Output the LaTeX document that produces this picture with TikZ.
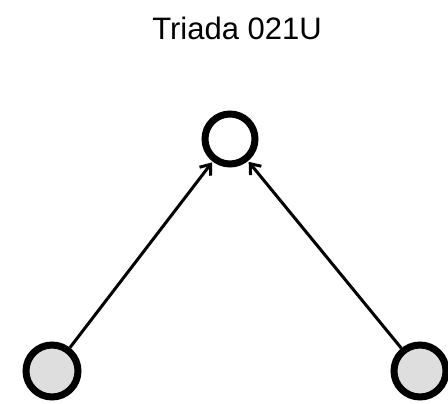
\documentclass[tikz,border=0pt]{standalone}
\usepackage{fontspec}
\setmainfont{Liberation Sans}
\usetikzlibrary{arrows.meta}
\begin{document}
\begin{tikzpicture}[x=1pt,y=-1pt,
  vertex/.style={circle,draw=black,line width=7pt,minimum size=50pt,inner sep=0pt},
  tie/.style={line width=3pt,-{Straight Barb[length=9pt,width=14pt,line width=3pt]},shorten >=1pt}]
\useasboundingbox (0,0) rectangle (448,404);
\node (title) at (237,28) {\fontsize{31pt}{36pt}\selectfont Triada 021U};
\node[vertex,fill=white] (top) at (230,139) {};
\node[vertex,fill=black!13,minimum size=52pt] (left) at (52,371) {};
\node[vertex,fill=black!13,minimum size=52pt] (right) at (420,371) {};
\draw[tie] (left) -- (top);
\draw[tie] (right) -- (top);
\end{tikzpicture}
\end{document}
